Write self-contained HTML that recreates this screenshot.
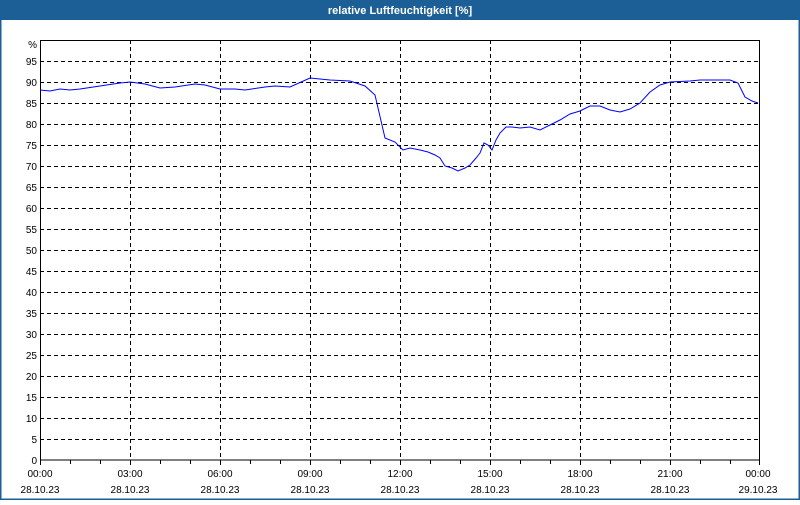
<!DOCTYPE html>
<html><head><style>
body{margin:0;width:800px;height:500px;overflow:hidden;background:#fff;font-family:"Liberation Sans",sans-serif}
</style></head><body>
<svg width="800" height="500" xmlns="http://www.w3.org/2000/svg" font-family="Liberation Sans, sans-serif" font-size="10">
<rect x="0" y="0" width="800" height="500" fill="#fff"/>
<rect x="0.5" y="0.5" width="799" height="499" fill="none" stroke="#1c5f96" stroke-width="2"/>
<rect x="0" y="0" width="800" height="20" fill="#1c5f96"/>
<text x="400" y="14" text-anchor="middle" fill="#fff" font-weight="bold" font-size="11">relative Luftfeuchtigkeit [%]</text>
<g stroke="#000" stroke-dasharray="4,3" stroke-width="1">
<path d="M40 61.5H760M40 82.5H760M40 103.5H760M40 124.5H760M40 145.5H760M40 166.5H760M40 187.5H760M40 208.5H760M40 229.5H760M40 250.5H760M40 271.5H760M40 292.5H760M40 313.5H760M40 334.5H760M40 355.5H760M40 376.5H760M40 397.5H760M40 418.5H760M40 439.5H760"/>
<path d="M130.5 40V460M220.5 40V460M310.5 40V460M400.5 40V460M490.5 40V460M580.5 40V460M670.5 40V460"/>
</g>
<rect x="40.5" y="40.5" width="719" height="419.5" fill="none" stroke="#000"/>
<g stroke="#000"><path d="M40.5 460v5M70.5 460v4M100.5 460v4M130.5 460v5M160.5 460v4M190.5 460v4M220.5 460v5M250.5 460v4M280.5 460v4M310.5 460v5M340.5 460v4M370.5 460v4M400.5 460v5M430.5 460v4M460.5 460v4M490.5 460v5M520.5 460v4M550.5 460v4M580.5 460v5M610.5 460v4M640.5 460v4M670.5 460v5M700.5 460v4M730.5 460v4M759.5 460v5"/></g>
<g text-anchor="end" fill="#000">
<text x="37" y="48">%</text><text x="37" y="65">95</text><text x="37" y="86">90</text><text x="37" y="107">85</text><text x="37" y="128">80</text><text x="37" y="149">75</text><text x="37" y="170">70</text><text x="37" y="191">65</text><text x="37" y="212">60</text><text x="37" y="233">55</text><text x="37" y="254">50</text><text x="37" y="275">45</text><text x="37" y="296">40</text><text x="37" y="317">35</text><text x="37" y="338">30</text><text x="37" y="359">25</text><text x="37" y="380">20</text><text x="37" y="401">15</text><text x="37" y="422">10</text><text x="37" y="443">5</text><text x="37" y="464">0</text>
</g>
<g text-anchor="middle" fill="#000">
<text x="40" y="477">00:00</text><text x="40" y="493">28.10.23</text>
<text x="130" y="477">03:00</text><text x="130" y="493">28.10.23</text>
<text x="220" y="477">06:00</text><text x="220" y="493">28.10.23</text>
<text x="310" y="477">09:00</text><text x="310" y="493">28.10.23</text>
<text x="400" y="477">12:00</text><text x="400" y="493">28.10.23</text>
<text x="490" y="477">15:00</text><text x="490" y="493">28.10.23</text>
<text x="580" y="477">18:00</text><text x="580" y="493">28.10.23</text>
<text x="670" y="477">21:00</text><text x="670" y="493">28.10.23</text>
<text x="758" y="477">00:00</text><text x="758" y="493">29.10.23</text>
</g>
<polyline fill="none" stroke="#0000ff" stroke-width="1" points="40,90 50,91 60,89 70,90 80,89 100,86 120,83 130,82 145,84 160,88 175,87 195,84 205,85 220,89 235,89 245,90 265,87 275,86 290,87 310,78 320,79 330,80 350,81 365,86 375,95 385,138 395,142 403,150 410,148 420,150 428,152 435,155 440,158 445,166 452,168 458,171 465,168 470,165 476,158 480,153 484,143 488,145 492,150 496,140 500,133 506,127 512,127 520,128 530,127 540,130 550,125 560,120 570,114 580,111 590,106 600,106 610,110 620,112 630,109 640,103 650,92 660,85 670,82 690,81 700,80 720,80 730,80 738,83 745,97 752,101 758,103"/>
</svg>
</body></html>
